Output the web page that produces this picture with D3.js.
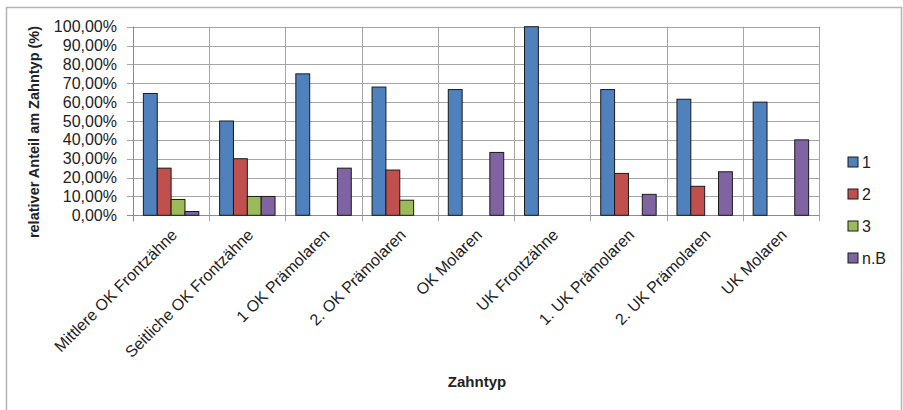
<!DOCTYPE html>
<html>
<head>
<meta charset="utf-8">
<script src="https://cdn.jsdelivr.net/npm/d3@7/dist/d3.min.js"></script>
<style>
  body { margin: 0; background: #fff; }
  text { font-family: "Liberation Sans", Arial, sans-serif; fill: #222; }
</style>
</head>
<body>
<div class="chart"></div>
<script>
// ---------------------------------- DATA
var categories = [
  "Mittlere OK Frontzähne",
  "Seitliche OK Frontzähne",
  "1 OK Prämolaren",
  "2. OK Prämolaren",
  "OK Molaren",
  "UK Frontzähne",
  "1. UK Prämolaren",
  "2. UK Prämolaren",
  "UK Molaren"
];
var seriesNames = ["1", "2", "3", "n.B"];
var values1  = [64.6, 50.0, 75.0, 68.0, 66.67, 100.0, 66.67, 61.54, 60.0];
var values2  = [25.0, 30.0, 0,    24.0, 0,     0,     22.22, 15.38, 0];
var values3  = [8.4,  10.0, 0,    8.0,  0,     0,     0,     0,     0];
var valuesNB = [2.0,  10.0, 25.0, 0,    33.33, 0,     11.11, 23.08, 40.0];
var yTicks = [0, 10, 20, 30, 40, 50, 60, 70, 80, 90, 100];
var colors = ["#4F81BD", "#C0504D", "#9BBB59", "#8064A2"];

var allSeries = [values1, values2, values3, valuesNB];

// ---------------------------------- SVG
var width = 903, height = 410;
var margin = {left: 133, right: 84, top: 26.7, bottom: 194.7};

var svg = d3.select(".chart").append("svg")
  .attr("width", width)
  .attr("height", height);

// outer frame
svg.append("rect")
  .attr("x", 6.5).attr("y", 7.5)
  .attr("width", 895).attr("height", 420)
  .attr("fill", "none")
  .attr("stroke", "#b4b4b4")
  .attr("stroke-width", 1.5);

// ---------------------------------- SCALES
var x = d3.scaleBand()
  .domain(categories)
  .range([margin.left, width - margin.right])
  .paddingInner(0).paddingOuter(0);

var xs = d3.scaleBand()
  .domain(seriesNames)
  .range([0, x.bandwidth()])
  .paddingInner(0).paddingOuter(0.75);

var y = d3.scaleLinear()
  .domain([0, 100])
  .range([height - margin.bottom, margin.top]);

// ---------------------------------- GRID
var grid = svg.append("g");
grid.selectAll("line.h")
  .data(yTicks)
  .enter().append("line")
    .attr("class", "h")
    .attr("x1", margin.left - 6)
    .attr("x2", width - margin.right)
    .attr("y1", function(d){ return Math.round(y(d)) + 0.5; })
    .attr("y2", function(d){ return Math.round(y(d)) + 0.5; })
    .attr("stroke", "#a6a6a6");

var bounds = categories.map(function(c){ return x(c); }).concat([x.range()[1]]);
grid.selectAll("line.v")
  .data(bounds)
  .enter().append("line")
    .attr("class", "v")
    .attr("x1", function(d){ return Math.round(d) + 0.5; })
    .attr("x2", function(d){ return Math.round(d) + 0.5; })
    .attr("y1", margin.top)
    .attr("y2", y(0) + 6)
    .attr("stroke", "#a6a6a6");

// axis lines
svg.append("line")
  .attr("x1", margin.left - 6).attr("x2", width - margin.right)
  .attr("y1", Math.round(y(0)) + 0.5).attr("y2", Math.round(y(0)) + 0.5)
  .attr("stroke", "#8c8c8c");
svg.append("line")
  .attr("x1", Math.round(margin.left) + 0.5).attr("x2", Math.round(margin.left) + 0.5)
  .attr("y1", margin.top).attr("y2", y(0) + 6)
  .attr("stroke", "#8c8c8c");

// ---------------------------------- BARS
var groups = svg.selectAll("g.series")
  .data(allSeries)
  .enter().append("g")
    .attr("class", "series")
    .attr("fill", function(d, i){ return colors[i]; });

groups.each(function(vals, si){
  d3.select(this).selectAll("rect")
    .data(vals.map(function(v, ci){ return {c: categories[ci], v: v}; }).filter(function(d){ return d.v > 0; }))
    .enter().append("rect")
      .attr("x", function(d){ return x(d.c) + xs(seriesNames[si]); })
      .attr("y", function(d){ return y(d.v); })
      .attr("width", xs.bandwidth())
      .attr("height", function(d){ return y(0) - y(d.v); })
      .attr("stroke", "#1a1a1a")
      .attr("stroke-width", 1);
});

// ---------------------------------- AXES TEXT
var fmt = function(d){ return d3.format(".2f")(d).replace(".", ",") + "%"; };
var yAxis = d3.axisLeft(y).tickValues(yTicks).tickFormat(fmt).tickSize(0).tickPadding(16);
svg.append("g")
  .attr("transform", "translate(" + margin.left + ",0)")
  .call(yAxis)
  .call(function(g){ g.select(".domain").remove(); })
  .selectAll("text")
    .style("font-family", "Liberation Sans, Arial, sans-serif")
    .style("font-size", "16px")
    .attr("fill", "#222");

svg.append("g").selectAll("text")
  .data(categories)
  .enter().append("text")
    .attr("transform", function(d){ return "translate(" + (x(d) + x.bandwidth() / 2 + 3) + "," + 232 + ") rotate(-45)"; })
    .attr("text-anchor", "end")
    .attr("dy", "0.35em")
    .style("font-size", "16px")
    .text(function(d){ return d; });

svg.append("text")
  .attr("transform", "translate(39," + 132 + ") rotate(-90)")
  .attr("text-anchor", "middle")
  .style("font-size", "14.5px")
  .style("font-weight", "bold")
  .text("relativer Anteil am Zahntyp (%)");

svg.append("text")
  .attr("x", 477).attr("y", 387)
  .attr("text-anchor", "middle")
  .style("font-size", "15px")
  .style("font-weight", "bold")
  .text("Zahntyp");

// ---------------------------------- LEGEND
var legend = svg.append("g").selectAll("g")
  .data(seriesNames)
  .enter().append("g")
    .attr("transform", function(d, i){ return "translate(848," + (157 + i * 32) + ")"; });
legend.append("rect")
  .attr("width", 10).attr("height", 10)
  .attr("fill", function(d, i){ return colors[i]; })
  .attr("stroke", "#1a1a1a");
legend.append("text")
  .attr("x", 14).attr("y", 11)
  .style("font-size", "16px")
  .text(function(d){ return d; });
</script>
</body>
</html>
